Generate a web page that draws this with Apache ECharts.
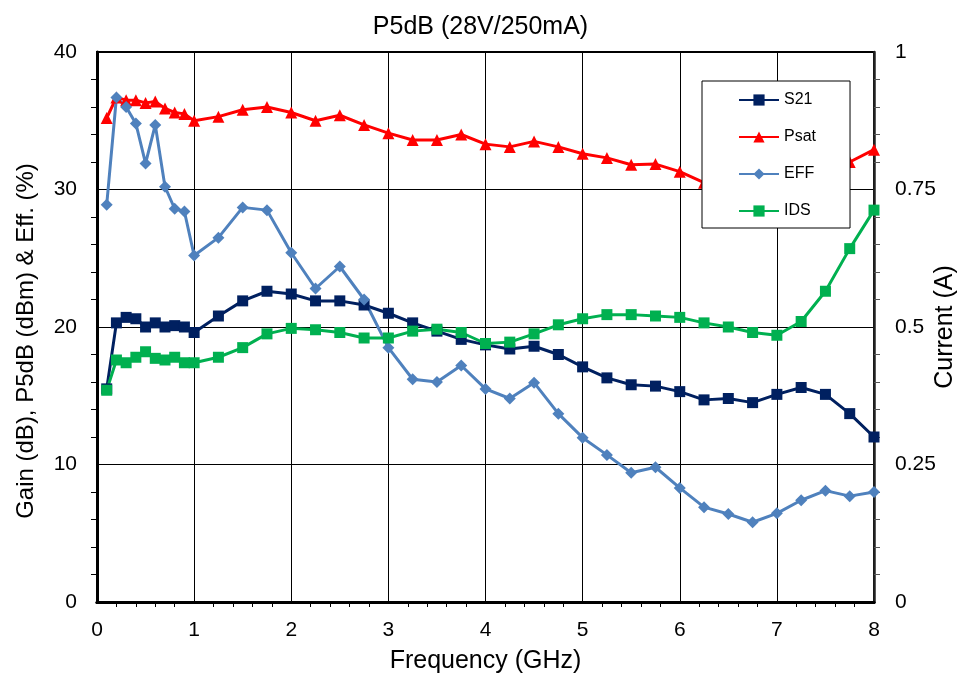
<!DOCTYPE html>
<html>
<head>
<meta charset="utf-8">
<title>P5dB (28V/250mA)</title>
<script src="https://cdn.jsdelivr.net/npm/echarts@6/dist/echarts.min.js"></script>
<style>
  html, body { margin: 0; padding: 0; background: #fff; }
  #chart { width: 961px; height: 679px; }
</style>
</head>
<body>
<div id="chart"></div>
<script>
// Frequency points (GHz)
const freq = [0.1, 0.2, 0.3, 0.4, 0.5, 0.6, 0.7, 0.8, 0.9, 1.0,
  1.25, 1.5, 1.75, 2.0, 2.25, 2.5, 2.75, 3.0, 3.25, 3.5, 3.75, 4.0,
  4.25, 4.5, 4.75, 5.0, 5.25, 5.5, 5.75, 6.0, 6.25, 6.5, 6.75, 7.0,
  7.25, 7.5, 7.75, 8.0];

// Gain (dB)
const s21 = [15.5, 20.3, 20.7, 20.6, 20.0, 20.3, 20.0, 20.1, 20.0, 19.6,
  20.8, 21.9, 22.6, 22.4, 21.9, 21.9, 21.6, 21.0, 20.3, 19.7, 19.1, 18.7,
  18.4, 18.6, 18.0, 17.1, 16.3, 15.8, 15.7, 15.3, 14.7, 14.8, 14.5, 15.1,
  15.6, 15.1, 13.7, 12.0];

// Saturated output power (dBm)
const psat = [35.2, 36.7, 36.5, 36.5, 36.3, 36.4, 35.9, 35.6, 35.5, 35.0,
  35.3, 35.8, 36.0, 35.6, 35.0, 35.4, 34.7, 34.1, 33.6, 33.6, 34.0, 33.3,
  33.1, 33.5, 33.1, 32.6, 32.3, 31.8, 31.85, 31.3, 30.5, 30.2, 30.0, 30.3,
  30.8, 31.4, 32.0, 32.9];

// Drain efficiency (%)
const eff = [28.9, 36.7, 36.0, 34.8, 31.9, 34.7, 30.2, 28.6, 28.4, 25.2,
  26.5, 28.7, 28.5, 25.4, 22.8, 24.4, 22.0, 18.5, 16.2, 16.0, 17.2, 15.5,
  14.8, 15.95, 13.7, 11.95, 10.7, 9.4, 9.8, 8.3, 6.9, 6.4, 5.8, 6.45,
  7.4, 8.1, 7.7, 8.0];

// Drain current (A), right axis
const ids = [0.385, 0.44, 0.435, 0.445, 0.455, 0.443, 0.44, 0.445, 0.435, 0.435,
  0.445, 0.4625, 0.4875, 0.4975, 0.495, 0.49, 0.48, 0.48, 0.4925, 0.496, 0.49, 0.47,
  0.4725, 0.4875, 0.504, 0.515, 0.5225, 0.5225, 0.52, 0.5175, 0.5075, 0.5, 0.49, 0.485,
  0.51, 0.565, 0.6425, 0.7125];

const xTicks = [0, 1, 2, 3, 4, 5, 6, 7, 8];
const leftTicks = [0, 10, 20, 30, 40];
const rightTicks = [0, 0.25, 0.5, 0.75, 1];

const pair = ys => freq.map((f, i) => [f, ys[i]]);

const FONT = '"Liberation Sans", Arial, sans-serif';
const chart = echarts.init(document.getElementById('chart'), null, { renderer: 'canvas' });

const axisText = { fontFamily: FONT, fontSize: 21, color: '#000' };

function lineSeries(name, ys, color, symbol, size, yIndex) {
  return {
    name: name,
    type: 'line',
    yAxisIndex: yIndex,
    data: pair(ys),
    symbol: symbol,
    symbolSize: size,
    lineStyle: { color: color, width: 3 },
    itemStyle: { color: color },
    emphasis: { disabled: true },
    animation: false
  };
}

chart.setOption({
  backgroundColor: '#fff',
  title: {
    text: 'P5dB (28V/250mA)',
    left: 'center',
    top: 10,
    textStyle: { fontFamily: FONT, fontSize: 25, fontWeight: 'normal', color: '#000' }
  },
  grid: {
    left: 97, right: 87, top: 52, bottom: 77,
    outerBoundsMode: 'none',
    containLabel: false,
    show: true, borderColor: '#000', borderWidth: 2, backgroundColor: 'transparent'
  },
  legend: {
    orient: 'vertical',
    left: 702, top: 81,
    width: 112,
    padding: [11, 34, 9, 36],
    itemWidth: 40, itemHeight: 14, itemGap: 21,
    backgroundColor: '#fff',
    borderColor: '#000', borderWidth: 1,
    textStyle: { fontFamily: FONT, fontSize: 16, color: '#000', width: 34 },
    data: ['S21', 'Psat', 'EFF', 'IDS']
  },
  xAxis: [{
    type: 'value',
    min: xTicks[0], max: xTicks[xTicks.length - 1], interval: 1,
    name: 'Frequency (GHz)',
    nameLocation: 'middle', nameGap: 47,
    nameMoveOverlap: false,
    nameTextStyle: { fontFamily: FONT, fontSize: 25, color: '#000' },
    axisLine: { show: true, onZero: false, lineStyle: { color: '#000', width: 3 } },
    axisTick: { show: false },
    minorTick: { show: true, splitNumber: 5, length: 5, lineStyle: { color: '#000', width: 1 } },
    axisLabel: Object.assign({ margin: 18 }, axisText),
    splitLine: { show: true, lineStyle: { color: '#000', width: 1 } }
  }, {
    type: 'value', position: 'top',
    min: xTicks[0], max: xTicks[xTicks.length - 1],
    axisLine: { show: true, lineStyle: { color: '#000', width: 3 } },
    axisTick: { show: false }, axisLabel: { show: false }, splitLine: { show: false }
  }],
  yAxis: [{
    type: 'value',
    min: leftTicks[0], max: leftTicks[leftTicks.length - 1], interval: 10,
    name: 'Gain (dB), P5dB (dBm) & Eff. (%)',
    nameLocation: 'middle', nameGap: 59,
    nameMoveOverlap: false,
    nameTextStyle: { fontFamily: FONT, fontSize: 24, color: '#000', padding: [0, 28, 0, 0] },
    axisLine: { show: true, onZero: false, lineStyle: { color: '#000', width: 3 } },
    axisTick: { show: false },
    minorTick: { show: true, splitNumber: 5, length: 6, lineStyle: { color: '#000', width: 1 } },
    axisLabel: Object.assign({ margin: 20 }, axisText),
    splitLine: { show: true, lineStyle: { color: '#000', width: 1 } }
  }, {
    type: 'value',
    position: 'right',
    min: rightTicks[0], max: rightTicks[rightTicks.length - 1], interval: 0.25,
    name: 'Current (A)',
    nameLocation: 'middle', nameGap: 59,
    nameMoveOverlap: false,
    nameTextStyle: { fontFamily: FONT, fontSize: 25, color: '#000' },
    axisLine: { show: true, onZero: false, lineStyle: { color: '#222', width: 2.5 } },
    axisTick: { show: false },
    minorTick: { show: true, splitNumber: 5, length: 6, lineStyle: { color: '#555', width: 1 } },
    axisLabel: Object.assign({ margin: 21 }, axisText),
    splitLine: { show: false }
  }],
  series: [
    lineSeries('S21', s21, '#002060', 'rect', 11, 0),
    lineSeries('Psat', psat, '#ff0000', 'triangle', 12, 0),
    lineSeries('EFF', eff, '#4f81bd', 'diamond', 12, 0),
    lineSeries('IDS', ids, '#00b050', 'rect', 11, 1)
  ]
});
</script>
</body>
</html>
